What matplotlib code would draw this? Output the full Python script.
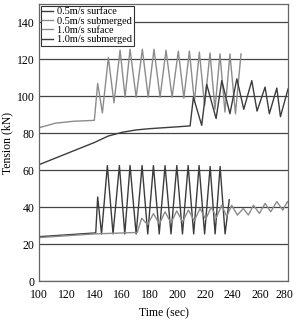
# mooring line tension time histories, surface vs submerged
import matplotlib.pyplot as plt
import matplotlib.transforms as mtransforms

plt.rcParams['font.family'] = ['Liberation Serif', 'DejaVu Serif']

# 0.5 m/s surface (dark, lower group)
t_05_surf = [100, 120, 140, 141, 142.4, 145.2, 149.4, 153.5, 158.1, 162, 165.8, 170.2,
             174.5, 178.6, 182.7, 186.9, 191.1, 195.4, 199.6, 203.7, 207.8, 211.8,
             215.7, 219.7, 223.7, 227.3, 230.9, 234.5, 237.5]
v_05_surf = [24, 25, 26, 26, 45.5, 25.5, 62.5, 25.5, 62.5, 25.5, 62.5, 25.5,
             62.5, 25.5, 62.5, 25.5, 62.5, 25.5, 62.5, 25.5, 62.5, 25.5,
             62.5, 25.5, 62, 25.5, 62, 25.5, 44]

# 0.5 m/s submerged (light, lower group)
t_05_sub = [100, 140, 171, 174.2, 178.5, 182.7, 187, 191.1, 195.4, 199.6, 203.8, 208,
            212.2, 216.4, 220.5, 224.5, 228.3, 232, 235.7, 239.3, 243.4, 247.7,
            251.3, 255, 259.3, 263.4, 267.5, 271.9, 276.2, 279.6, 280]
v_05_sub = [23.5, 25.5, 26.3, 34, 30.5, 36.5, 31, 37.5, 31.5, 38, 32, 38.5,
            32.5, 39.3, 33.5, 40, 34.5, 41, 35, 41, 35.7, 39.3,
            35.7, 41, 36.6, 42, 37.5, 43, 38.4, 43, 42.5]

# 1.0 m/s surface (light, upper group)
t_10_surf = [100, 112, 125, 140, 142.4, 145.8, 150.1, 154.2, 158.6, 162.2, 165.8, 170.2,
             174.7, 178.9, 183.1, 187.5, 191.8, 196.2, 200.7, 204.7, 208.7, 212.3,
             215.9, 219.7, 223.6, 227.2, 230.8, 234.4, 238, 242, 246]
v_10_surf = [83, 85.5, 86.5, 87, 107, 91, 121, 96.5, 125, 99.5, 125.5, 99.5,
             125.5, 99.5, 125.5, 99.5, 125, 99.5, 124.5, 99, 124.5, 97,
             124, 95, 123.5, 93, 123, 91.5, 123, 90.5, 123]

# 1.0 m/s submerged (dark, upper group)
t_10_sub = [100, 110, 120, 130, 140, 150, 160, 170, 180, 190, 200, 209.2, 211.6,
            217.6, 221.2, 228, 232.1, 238, 243, 248, 253.8, 257.6, 263.4, 266.5,
            271.9, 274.5, 280]
v_10_sub = [63, 66, 69, 72, 75, 78.5, 80.5, 81.8, 82.5, 83, 83.5, 84, 99.5,
            84.3, 106.5, 88, 108.5, 90.6, 109.5, 93, 108.5, 92, 105, 90.6,
            104.5, 89, 104]

dark = '#3c3c3c'
light = '#8c8c8c'

fig = plt.figure(figsize=(2.94, 3.19), dpi=100)
ax = fig.add_axes([0.1327, 0.1191, 0.847, 0.8683])

ax.plot(t_05_surf, v_05_surf, color=dark, lw=1.0, label='0.5m/s surface')
ax.plot(t_05_sub, v_05_sub, color=light, lw=1.0, label='0.5m/s submerged')
ax.plot(t_10_surf, v_10_surf, color=light, lw=1.0, label='1.0m/s suface')
ax.plot(t_10_sub, v_10_sub, color=dark, lw=1.0, label='1.0m/s submerged')

ax.set_xlim(100, 280)
ax.set_ylim(0, 150)
ax.set_xticks(range(100, 281, 20))
ax.set_yticks(range(0, 141, 20))
ax.yaxis.grid(True, color='#444444', lw=0.9)
ax.tick_params(length=0, labelsize=8.5)
ax.tick_params(axis='x', pad=6)
ax.tick_params(axis='y', pad=3)
for s in ax.spines.values():
    s.set_color('#666666')
    s.set_linewidth(0.9)

# keep the last x label inside the picture
last = ax.get_xticklabels()[-1]
last.set_transform(last.get_transform() +
                   mtransforms.ScaledTranslation(-4 / 100, 0, fig.dpi_scale_trans))

ax.set_xlabel('Time (sec)', fontsize=8.5, labelpad=4)
ax.set_ylabel('Tension (kN)', fontsize=8.5, labelpad=3)

leg = ax.legend(loc='upper left', fontsize=7.4, frameon=True, fancybox=False,
                edgecolor='#333333', framealpha=1, handlelength=1.1,
                handletextpad=0.35, borderpad=0.15, labelspacing=0.02,
                borderaxespad=0.15)
leg.get_frame().set_linewidth(0.8)

fig.savefig('out.png', dpi=100)
